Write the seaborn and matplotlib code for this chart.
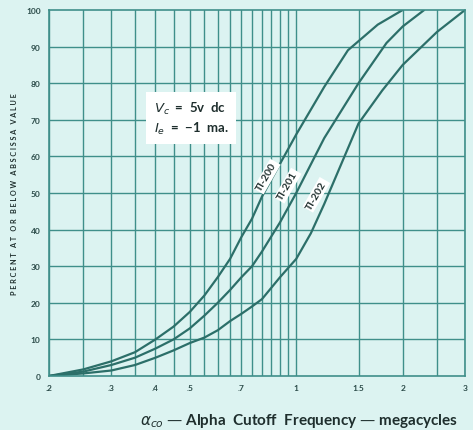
import matplotlib
matplotlib.use("Agg")
import matplotlib.pyplot as plt
import matplotlib.ticker as mticker
import pandas as pd
import seaborn as sns

# percent of units at or below a given alpha cutoff frequency (Mc)
freq_200 = [0.2, 0.25, 0.3, 0.35, 0.4, 0.45, 0.5, 0.55, 0.6, 0.65, 0.7, 0.75, 0.8, 0.9, 1.0, 1.2, 1.4, 1.7, 2.0]
pct_200 = [0, 1.8, 4, 6.5, 10, 13.5, 17.5, 22, 27, 32, 38, 43, 49, 58, 66, 79, 89, 96, 100]

freq_201 = [0.2, 0.25, 0.3, 0.35, 0.4, 0.45, 0.5, 0.55, 0.6, 0.65, 0.7, 0.75, 0.8, 0.9, 1.0, 1.2, 1.5, 1.8, 2.0, 2.3]
pct_201 = [0, 1.2, 3, 5, 7.5, 10, 13, 16.5, 20, 23.5, 27, 30, 34, 42, 50, 65, 80, 91, 95.5, 100]

freq_202 = [0.2, 0.25, 0.3, 0.35, 0.4, 0.45, 0.5, 0.55, 0.6, 0.65, 0.7, 0.75, 0.8, 0.9, 1.0, 1.1, 1.2, 1.5, 1.75, 2.0, 2.5, 3.0]
pct_202 = [0, 0.7, 1.5, 3, 5, 7, 9, 10.5, 12.5, 15, 17, 19, 21, 27, 32, 39, 47, 69, 78, 85, 94, 100]

tick_vals = [0.2, 0.3, 0.4, 0.5, 0.7, 1, 1.5, 2, 3]
tick_labels = [".2", ".3", ".4", ".5", ".7", "1", "1.5", "2", "3"]
grid_x = [0.2 + 0.05 * i for i in range(17)] + [1.5, 2.0, 2.5, 3.0]

df = pd.concat([
    pd.DataFrame({"freq": freq_200, "pct": pct_200, "type": "TI-200"}),
    pd.DataFrame({"freq": freq_201, "pct": pct_201, "type": "TI-201"}),
    pd.DataFrame({"freq": freq_202, "pct": pct_202, "type": "TI-202"}),
])

bg = "#dcf3f1"
grid_col = "#3f8f8a"
line_col = "#2c6f69"
text_col = "#1e2e2d"

sns.set_theme(style="white")
plt.rcParams["font.family"] = ["Lato", "DejaVu Sans"]

fig = plt.figure(figsize=(4.73, 4.31), dpi=100, facecolor=bg)
ax = fig.add_axes([0.1036, 0.1253, 0.8795, 0.8492])
ax.set_facecolor(bg)

sns.lineplot(data=df, x="freq", y="pct", hue="type", units="type", estimator=None,
             palette=[line_col] * 3, linewidth=1.6, legend=False, ax=ax)

ax.set_xscale("log")
ax.set_xlim(0.2, 3)
ax.set_ylim(0, 100)

for gx in grid_x:
    ax.axvline(gx, color=grid_col, linewidth=1.0, zorder=0)
for gy in range(10, 100, 10):
    ax.axhline(gy, color=grid_col, linewidth=1.0, zorder=0)

ax.xaxis.set_major_locator(mticker.FixedLocator(tick_vals))
ax.xaxis.set_major_formatter(mticker.FixedFormatter(tick_labels))
ax.xaxis.set_minor_locator(mticker.NullLocator())
ax.set_yticks(range(0, 101, 10))
ax.tick_params(axis="both", length=0, labelsize=6, colors="#2a4a48", pad=6)
for lbl in ax.get_xticklabels() + ax.get_yticklabels():
    lbl.set_fontweight("bold")

for s in ax.spines.values():
    s.set_color(grid_col)
    s.set_linewidth(1.2)

ax.set_xlabel(r"$\alpha_{co}$ — Alpha  Cutoff  Frequency — megacycles",
              fontsize=11, fontweight="bold", color=text_col)
ax.xaxis.set_label_coords(0.6, -0.095)
ax.set_ylabel("P E R C E N T   A T   O R   B E L O W   A B S C I S S A   V A L U E",
              fontsize=5.2, fontweight="bold", color=text_col, labelpad=6)

ax.text(0.395, 70.5, "$V_c$  =  5v  dc\n$I_e$  =  −1  ma.", fontsize=9.5,
        fontweight="bold", color=text_col, va="center", ha="left",
        linespacing=1.3,
        bbox=dict(boxstyle="square,pad=0.6", facecolor="white", edgecolor="none"))

for name, xpos, ypos in [("TI-200", 0.826, 54.5), ("TI-201", 0.946, 52), ("TI-202", 1.14, 49.5)]:
    ax.text(xpos, ypos, name, fontsize=7.5, fontweight="bold", color=text_col,
            rotation=60, ha="center", va="center",
            bbox=dict(boxstyle="square,pad=0.15", facecolor="white", edgecolor="none"))

fig.savefig("out.png", dpi=100, facecolor=bg)
